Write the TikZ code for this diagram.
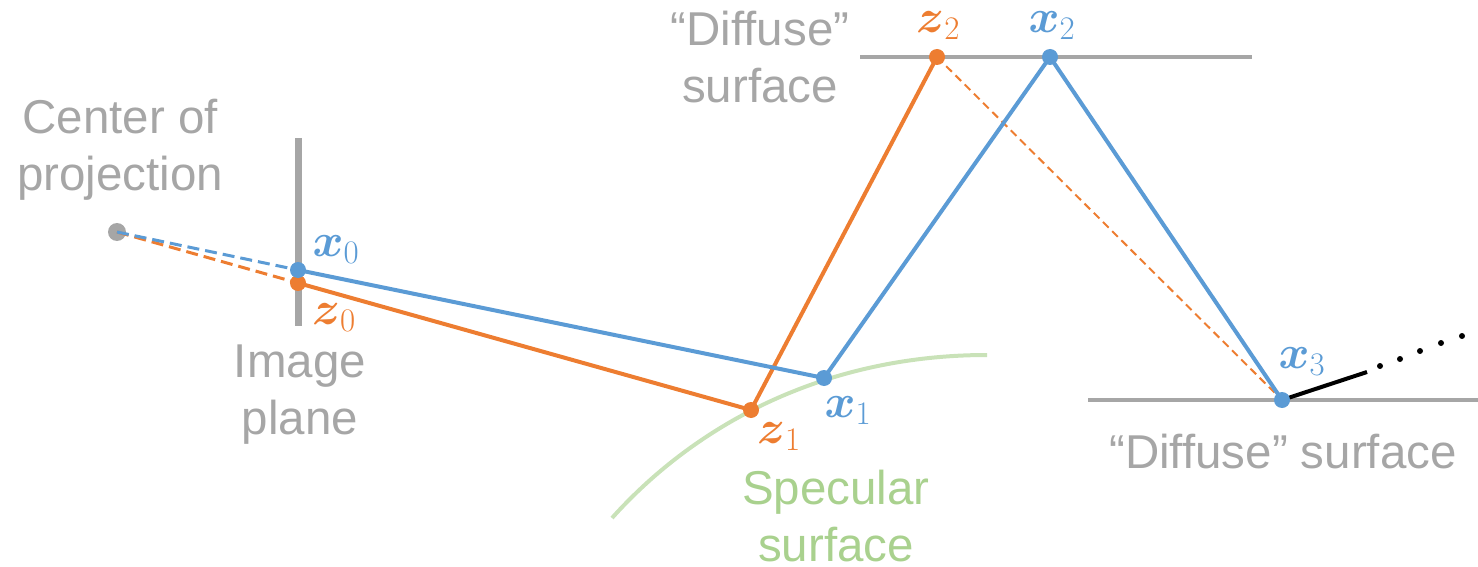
\documentclass[tikz,border=0pt]{standalone}
\usepackage{fix-cm}
\usepackage{amsmath}
\usepackage[no-math]{fontspec}
\newfontfamily\labfont{Liberation Sans}
\definecolor{cgray}{HTML}{A6A6A6}
\definecolor{cblue}{HTML}{5B9BD5}
\definecolor{corange}{HTML}{ED7D31}
\definecolor{cgreen}{HTML}{A9D18E}
\definecolor{cgreenl}{HTML}{C9E2B8}
\tikzset{
  lab/.style={font=\labfont\fontsize{47.5}{57}\selectfont, text=cgray, align=center, inner sep=0pt},
  mlab/.style={font=\fontsize{47}{52}\selectfont, inner sep=0pt},
  surf/.style={draw=cgray, line width=4pt},
  bray/.style={draw=cblue, line width=4pt},
  oray/.style={draw=corange, line width=4pt},
  bdot/.style={circle, fill=cblue, minimum size=16pt, inner sep=0pt},
  odot/.style={circle, fill=corange, minimum size=16pt, inner sep=0pt},
  gdot/.style={circle, fill=cgray, minimum size=18pt, inner sep=0pt},
}
\begin{document}
\begin{tikzpicture}[x=1pt, y=-1pt]
\useasboundingbox (0,0) rectangle (1478,567);
% coordinates
\coordinate (ip1) at (298,138);
\coordinate (ip2) at (298,326);
\coordinate (ts1) at (860,57);
\coordinate (ts2) at (1252,57);
\coordinate (bs1) at (1088,400);
\coordinate (bs2) at (1478,400);
\coordinate (bk) at (1367,372);
\coordinate (sp1) at (612,518);
\coordinate (sp2) at (987,355);
% surfaces
\draw[cgray, line width=7pt] (ip1) -- (ip2);
\draw[surf] (ts1) -- (ts2);
\draw[surf] (bs1) -- (bs2);
\draw[cgreenl, line width=4pt] (sp1) .. controls (700,420) and (830,355) .. (sp2);
% points
\node[gdot] (c) at (117,232) {};
\coordinate (x0) at (298,270);
\coordinate (z0) at (298,283);
\coordinate (x1) at (824,378);
\coordinate (z1) at (751,410);
\coordinate (z2) at (937,57);
\coordinate (x2) at (1050,57);
\coordinate (x3) at (1282,400);
% dashed rays
\draw[corange, line width=3pt, dash pattern=on 12pt off 6pt] (c.center) -- (z0);
\draw[cblue, line width=3pt, dash pattern=on 12pt off 6pt] (c.center) -- (x0);
\draw[corange, line width=2pt, dash pattern=on 8pt off 5pt] (z2) -- (x3);
% solid rays
\draw[oray, line join=round] (z0) -- (z1) -- (z2);
\draw[bray, line join=round] (x0) -- (x1) -- (x2) -- (x3);
\draw[black, line width=4pt] (x3) -- (bk);
\foreach \p in {(1380,366),(1400,359),(1420,351),(1441,343),(1462,336)}
  \fill[black] \p circle (3pt);
% dots
\node[odot] (nz0) at (z0) {};
\node[bdot] (nx0) at (x0) {};
\node[odot] (nz1) at (z1) {};
\node[bdot] (nx1) at (x1) {};
\node[odot] (nz2) at (z2) {};
\node[bdot] (nx2) at (x2) {};
\node[bdot] (nx3) at (x3) {};
% math labels
\node[mlab, text=cblue] (lx0) at (336,250) {$\boldsymbol{x}_0$};
\node[mlab, text=corange] (lz0) at (334,318) {$\boldsymbol{z}_0$};
\node[mlab, text=cblue] (lx1) at (848,411) {$\boldsymbol{x}_1$};
\node[mlab, text=corange] (lz1) at (779,437) {$\boldsymbol{z}_1$};
\node[mlab, text=corange] (lz2) at (938,26) {$\boldsymbol{z}_2$};
\node[mlab, text=cblue] (lx2) at (1052,26) {$\boldsymbol{x}_2$};
\node[mlab, text=cblue] (lx3) at (1302,362) {$\boldsymbol{x}_3$};
% text labels
\node[lab, anchor=north] (tc) at (120,99) {Center of\\projection};
\node[lab, anchor=north] (ti) at (300,345) {Image\\plane};
\node[lab, anchor=north] (td1) at (760,11) {“Diffuse”\\surface};
\node[lab, anchor=north] (td2) at (1283,434) {“Diffuse” surface};
\node[lab, anchor=north, text=cgreen] (ts) at (836,470) {Specular\\surface};
\end{tikzpicture}
\end{document}
